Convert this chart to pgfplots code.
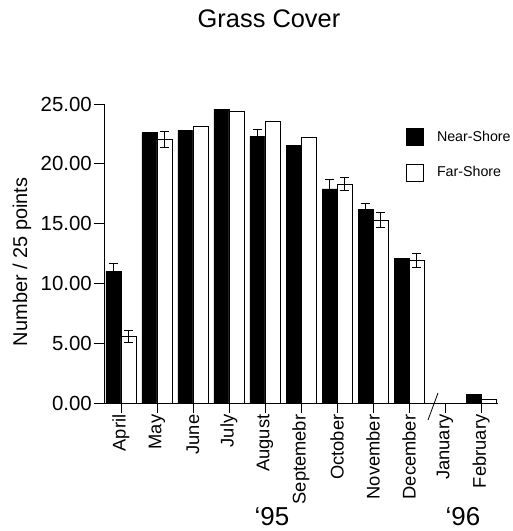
\documentclass[border=0pt]{standalone}
\usepackage{fontspec}
\setmainfont{Liberation Sans}
\usepackage{pgfplots}
\pgfplotsset{compat=1.18}
\usepackage{pgfplotstable}
\pgfplotstableread{
x near nerr far ferr
0 11.0 0.65 5.55 0.5
1 22.6 0 22.05 0.65
2 22.8 0 23.15 0
3 24.55 0 24.42 0
4 22.3 0.6 23.57 0
5 21.55 0 22.17 0
6 17.9 0.8 18.3 0.55
7 16.18 0.5 15.3 0.6
8 12.07 0 11.9 0.6
10 0.7 0 0.3 0
}\grass
\begin{document}
\begin{tikzpicture}
\useasboundingbox (0bp,0bp) rectangle (513bp,531bp);
\begin{axis}[
  at={(104bp,128bp)}, anchor=south west,
  scale only axis, width=394bp, height=299bp,
  xmin=-0.47, xmax=10.47, ymin=0, ymax=25,
  axis x line=bottom, axis y line=left,
  axis line style={-, line width=0.8bp, black},
  ybar=0pt, bar width=15bp,
  tick align=outside, major tick length=10bp,
  tick style={black, line width=0.8bp},
  xtick={0,...,10},
  xticklabels={April,May,June,July,August,Septemebr,October,November,December,January,February},
  xticklabel style={rotate=90, anchor=east, font=\fontsize{18.4}{20}\selectfont, inner sep=1.5bp},
  ytick={0,5,...,25},
  yticklabel style={font=\fontsize{20.5}{23}\selectfont, inner sep=2bp, /pgf/number format/.cd, fixed, fixed zerofill, precision=2, assume math mode=true},
  ylabel={Number / 25 points},
  ylabel style={at={(rel axis cs:-0.208,0.472)}, anchor=center, font=\fontsize{20}{23}\selectfont},
  legend cell align=left,
  legend style={at={(rel axis cs:0.759,0.926)}, anchor=north west, draw=none, fill=none,
    font=\fontsize{14.3}{17}\selectfont, row sep=17.5bp, nodes={inner sep=0pt},
    /tikz/every odd column/.append style={column sep=13bp}},
]
\addplot[fill=black, draw=black, line width=0.8bp,
  legend image code/.code={\draw[fill=black,draw=black,line width=0.8bp] (0bp,-8.5bp) rectangle (17bp,8.5bp);},
  error bars/.cd, y dir=both, y explicit,
  error bar style={line width=0.8bp, black},
  error mark options={rotate=90, mark size=4.5bp, line width=0.8bp, black}]
  table[x=x, y=near, y error=nerr]{\grass};
\addlegendentry{Near-Shore}
\addplot[fill=white, draw=black, line width=0.8bp,
  legend image code/.code={\draw[fill=white,draw=black,line width=0.8bp] (0bp,-8.5bp) rectangle (17bp,8.5bp);},
  error bars/.cd, y dir=both, y explicit,
  error bar style={line width=0.8bp, black},
  error mark options={rotate=90, mark size=4.5bp, line width=0.8bp, black}]
  table[x=x, y=far, y error=ferr]{\grass};
\addlegendentry{Far-Shore}
\end{axis}
\draw[line width=0.8bp] (428bp,111bp) -- (438bp,138bp);
\node[anchor=base, font=\fontsize{25.5}{28}\selectfont] at (269bp,503.7bp) {Grass Cover};
\node[anchor=base, inner sep=0pt, font=\fontsize{26}{29}\selectfont] at (272bp,6bp) {‘95};
\node[anchor=base, inner sep=0pt, font=\fontsize{26}{29}\selectfont] at (463bp,6bp) {‘96};
\end{tikzpicture}
\end{document}
